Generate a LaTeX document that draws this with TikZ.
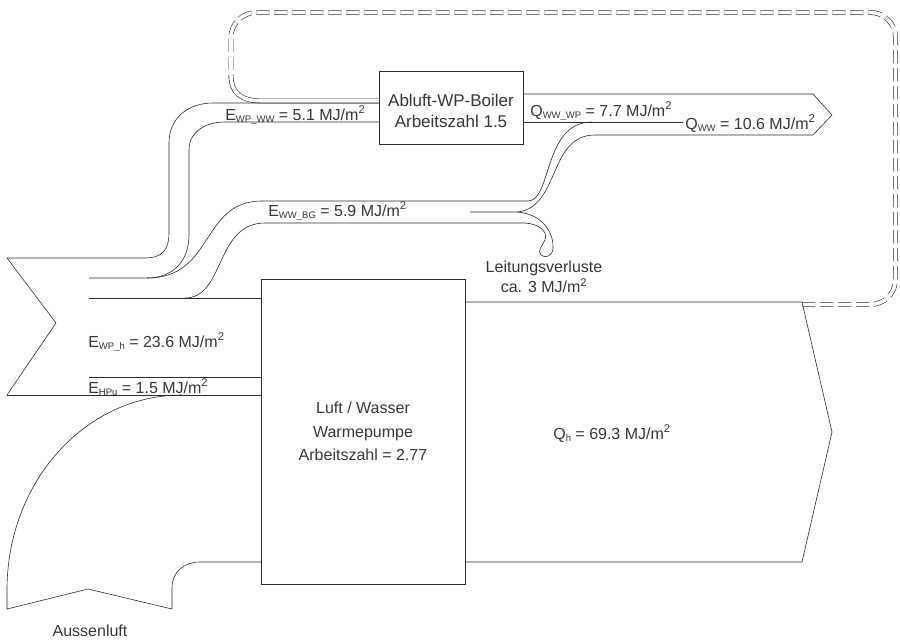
\documentclass[tikz,border=0pt]{standalone}
\usepackage{fontspec}
\setmainfont{Liberation Sans}
\definecolor{lineGray}{RGB}{45,45,45}
\definecolor{textGray}{RGB}{55,55,55}
\newcommand{\lowidx}[1]{\raisebox{-0.3ex}{\fontsize{9.5}{9.5}\selectfont #1}}

\begin{document}
\begin{tikzpicture}[x=1pt, y=-1pt, line width=0.6pt, lineGray,
    flowlbl/.style={text=textGray, inner sep=0pt, font=\fontsize{16}{20}\selectfont},
    unitbox/.style={draw=lineGray, text=textGray, inner sep=0pt},
    airpipe/.style={draw=lineGray, double=white, double distance=3.6pt}]
  \useasboundingbox (0,0) rectangle (900,643);

  % exhaust air loop
  \draw[airpipe, dash pattern=on 13pt off 5pt, rounded corners=25pt]
    (802,304.5) -- (895.5,304.5) -- (895.5,12.5) -- (231,12.5) -- (231,76);
  \draw[airpipe] (231,75) .. controls (231,92) and (240,101) .. (262,101) -- (379,101);

  \node[unitbox, minimum width=144pt, minimum height=73pt,
    font=\fontsize{17}{19}\selectfont] (boiler) at (451,107.5)
    {\raisebox{-10pt}[0pt][0pt]{\begin{tabular}{@{}c@{}}Abluft-WP-Boiler\\[2pt]Arbeitszahl 1.5\end{tabular}}};
  \node[unitbox, align=center, minimum width=204pt, minimum height=305pt,
    font=\fontsize{16}{23.5}\selectfont] (heatpump) at (363,431.5) {Luft / Wasser\\Warmepumpe\\Arbeitszahl = 2.77};

  % electricity from the left
  \draw (7,258) -- (56,323) -- (7,395);
  \draw (7,258) -- (145,258) .. controls (162,258) and (169,250) .. (169,233) -- (169,143)
    .. controls (169,118) and (188,103) .. (213,103) -- (379,103);
  \draw (89,278) -- (147,278) .. controls (172,278) and (189,262) .. (189,235) -- (189,150)
    .. controls (189,132) and (205,122) .. (225,122) -- (379,122);
  \draw (147,278) .. controls (215,278) and (200,201) .. (262,201) -- (528,201)
    .. controls (552,201) and (543,122) .. (592,122);
  \draw (185,298) .. controls (225,298) and (215,223) .. (265,223) -- (525,223)
    .. controls (540,224) and (548,232) .. (545,240) .. controls (542,246) and (537,251) .. (541,255)
    .. controls (545,259) and (553,256) .. (553,248) .. controls (554,236) and (545,214) .. (517,212);
  \draw (470,212) -- (517,212) .. controls (560,208) and (548,135) .. (595,135);
  \draw (89,298) -- (261,298);
  \draw (89,377) -- (261,377);
  \draw (7,395) -- (261,395);

  % hot water out of the boiler
  \draw (523,94) -- (813,94) -- (832,115) -- (813,135) -- (595,135);
  \draw (523,122) -- (683,122);

  % outside air
  \draw (182,395) .. controls (85,395) and (7,482) .. (7,590) -- (7,609) -- (88,589) -- (172,609)
    -- (172,588) .. controls (172,572) and (184,562) .. (200,562) -- (261,562);

  % heating output
  \draw (465,302) -- (802,302) -- (832,432) -- (802,562) -- (465,562);

  \node[flowlbl, anchor=base west] (ewpww) at (225,120) {E\lowidx{WP\_WW} = 5.1 MJ/m\textsuperscript{2}};
  \node[flowlbl, anchor=base west] (qwwwp) at (530,116) {Q\lowidx{WW\_WP} = 7.7 MJ/m\textsuperscript{2}};
  \node[flowlbl, anchor=base west] (qww) at (685,129) {Q\lowidx{WW} = 10.6 MJ/m\textsuperscript{2}};
  \node[flowlbl, anchor=base west] (ewwbg) at (268,216) {E\lowidx{WW\_BG} = 5.9 MJ/m\textsuperscript{2}};
  \node[flowlbl, align=center] (verlust) at (544,277) {Leitungsverluste\\ca. 3 MJ/m\textsuperscript{2}};
  \node[flowlbl, anchor=base west] (ewph) at (88,347) {E\lowidx{WP\_h} = 23.6 MJ/m\textsuperscript{2}};
  \node[flowlbl, anchor=base west] (ehpu) at (88,393) {E\lowidx{HPu} = 1.5 MJ/m\textsuperscript{2}};
  \node[flowlbl, anchor=base west] (qh) at (553,439) {Q\lowidx{h} = 69.3 MJ/m\textsuperscript{2}};
  \node[flowlbl] (aussen) at (90,631) {Aussenluft};
\end{tikzpicture}
\end{document}
